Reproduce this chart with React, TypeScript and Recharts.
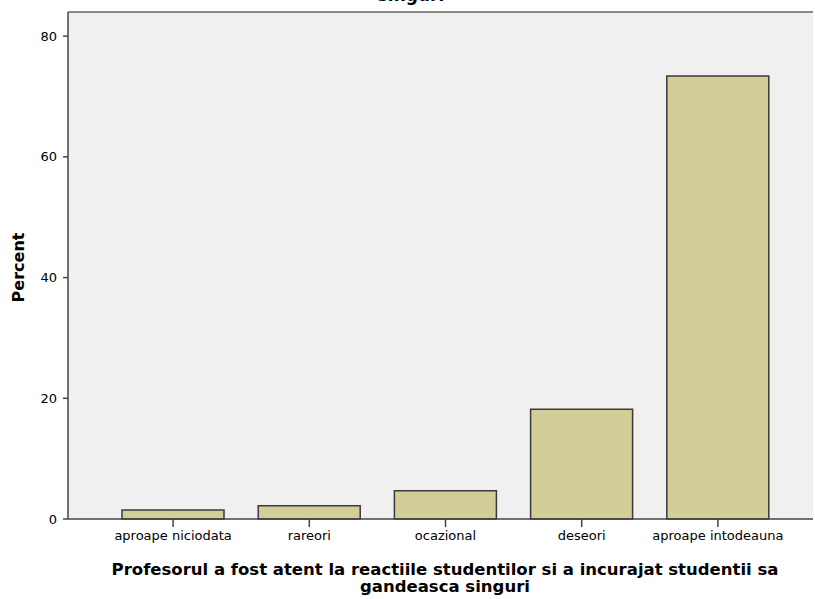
import { useEffect } from 'react';
import { BarChart, Bar, XAxis, YAxis, CartesianGrid, ReferenceLine } from 'recharts';

const categories = ['aproape niciodata', 'rareori', 'ocazional', 'deseori', 'aproape intodeauna'];
const percents = [1.5, 2.2, 4.7, 18.2, 73.4];
const yTicks = [0, 20, 40, 60, 80];

const data = categories.map((name, i) => ({ name, percent: percents[i] }));

const FONT = '"DejaVu Sans", Verdana, sans-serif';

const PercentLabel = ({ viewBox }: any) => {
  const cy = viewBox.y + viewBox.height / 2 + 2;
  return (
    <text
      x={24}
      y={cy}
      transform={`rotate(-90, 24, ${cy})`}
      textAnchor="middle"
      fill="#000"
      style={{ fontFamily: FONT, fontSize: 16, fontWeight: 'bold' }}
    >
      Percent
    </text>
  );
};

export default function App() {
  useEffect(() => {
    document.body.style.overflow = 'hidden';
  }, []);

  return (
    <div style={{ position: 'absolute', left: 0, top: 0, width: 815, height: 599, background: '#fff', overflow: 'hidden' }}>
      <div style={{
        position: 'absolute', left: 0, width: 822, top: -13, textAlign: 'center',
        fontFamily: FONT, fontWeight: 'bold', fontSize: 17, lineHeight: '17px',
      }}>
        singuri
      </div>
      <BarChart
        width={815}
        height={599}
        data={data}
        margin={{ top: 12, right: 2, bottom: 0, left: 0 }}
      >
        <CartesianGrid fill="#f0f0f0" horizontal={false} vertical={false} />
        <XAxis
          dataKey="name"
          height={80}
          padding={{ left: 37, right: 27 }}
          tickSize={8}
          tickMargin={4}
          axisLine={{ stroke: '#444', strokeWidth: 1.5 }}
          tickLine={{ stroke: '#444', strokeWidth: 1.5 }}
          tick={{ fill: '#000', fontSize: 13, fontFamily: FONT }}
          interval={0}
        />
        <YAxis
          width={68}
          domain={[0, 84]}
          ticks={yTicks}
          tickSize={5}
          tickMargin={6}
          axisLine={{ stroke: '#444', strokeWidth: 1.5 }}
          tickLine={{ stroke: '#444', strokeWidth: 1.5 }}
          tick={{ fill: '#000', fontSize: 13, fontFamily: FONT }}
          label={<PercentLabel />}
        />
        <ReferenceLine y={84} stroke="#666" strokeWidth={1.5} />
        <Bar
          dataKey="percent"
          barSize={102}
          fill="#d3ce97"
          stroke="#3a3a3a"
          strokeWidth={1.5}
          isAnimationActive={false}
        />
      </BarChart>
      <div style={{
        position: 'absolute', left: 0, width: 890, top: 561, textAlign: 'center',
        fontFamily: FONT, fontWeight: 'bold', fontSize: 16.5, lineHeight: '17px', color: '#000',
      }}>
        Profesorul a fost atent la reactiile studentilor si a incurajat studentii sa<br />gandeasca singuri
      </div>
    </div>
  );
}
